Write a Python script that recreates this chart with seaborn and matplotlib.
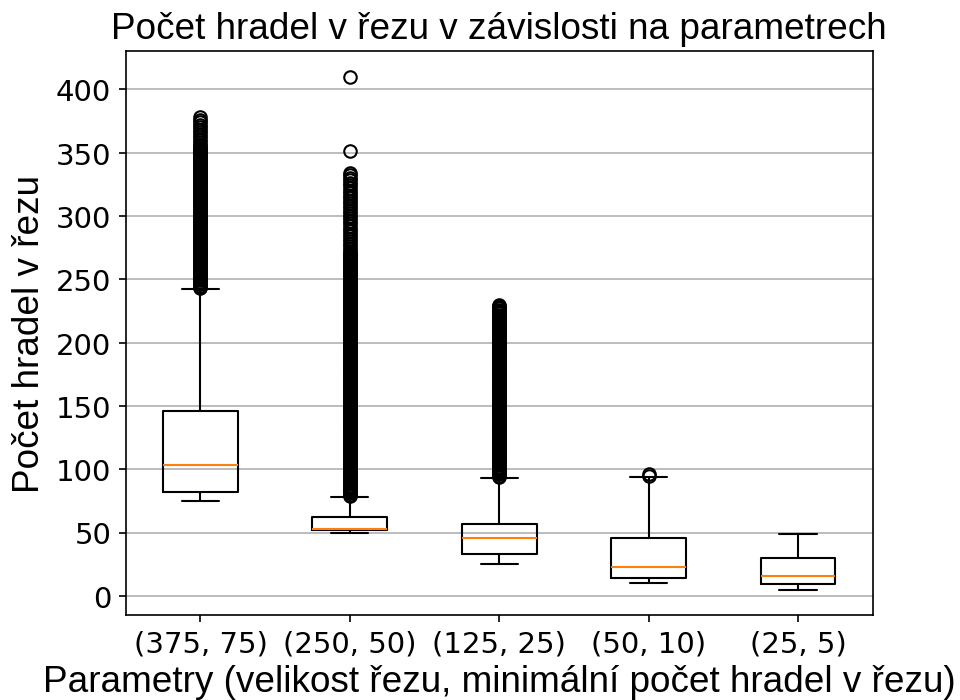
import matplotlib
matplotlib.use("Agg")
import matplotlib.pyplot as plt
import seaborn as sns

# Parametry a statistiky boxplotu
parametry = ["(375, 75)", "(250, 50)", "(125, 25)", "(50, 10)", "(25, 5)"]
whisker_lo = [75, 50, 25, 10, 5]
q1 = [82, 52, 33, 14, 9]
median = [103, 53, 46, 23, 16]
q3 = [146, 62, 57, 46, 30]
whisker_hi = [242, 78, 93, 94, 49]

fliers_375 = [243, 244, 245, 246, 247, 248, 249, 250, 251, 252, 253, 254, 255, 256,
              257, 258, 259, 260, 261, 262, 263, 264, 265, 266, 267, 268, 269, 270,
              271, 272, 273, 274, 275, 276, 277, 278, 279, 280, 281, 282, 283, 284,
              285, 286, 287, 288, 289, 290, 291, 292, 293, 294, 295, 296, 297, 298,
              299, 300, 301, 302, 303, 304, 305, 306, 307, 308, 309, 310, 311, 312,
              313, 314, 315, 316, 317, 318, 319, 320, 321, 322, 323, 324, 325, 326,
              327, 328, 329, 330, 331, 332, 333, 334, 335, 336, 337, 338, 339, 340,
              341, 342, 343, 344, 345, 346, 347, 348, 349, 350, 351, 352, 353, 354,
              355, 356, 358, 360, 362, 364, 366, 368, 370, 372, 374, 376, 378]
fliers_250 = [79, 80, 81, 82, 83, 84, 85, 86, 87, 88, 89, 90, 91, 92, 93, 94, 95,
              96, 97, 98, 99, 100, 101, 102, 103, 104, 105, 106, 107, 108, 109, 110,
              111, 112, 113, 114, 115, 116, 117, 118, 119, 120, 121, 122, 123, 124,
              125, 126, 127, 128, 129, 130, 131, 132, 133, 134, 135, 136, 137, 138,
              139, 140, 141, 142, 143, 144, 145, 146, 147, 148, 149, 150, 151, 152,
              153, 154, 155, 156, 157, 158, 159, 160, 161, 162, 163, 164, 165, 166,
              167, 168, 169, 170, 171, 172, 173, 174, 175, 176, 177, 178, 179, 180,
              181, 182, 183, 184, 185, 186, 187, 188, 189, 190, 191, 192, 193, 194,
              195, 196, 197, 198, 199, 200, 201, 202, 203, 204, 205, 206, 207, 208,
              209, 210, 211, 212, 213, 214, 215, 216, 217, 218, 219, 220, 221, 222,
              223, 224, 225, 226, 227, 228, 229, 230, 231, 232, 233, 234, 235, 236,
              237, 238, 239, 240, 241, 242, 243, 244, 245, 246, 247, 248, 249, 250,
              251, 252, 253, 254, 255, 256, 257, 258, 259, 260, 261, 262, 263, 264,
              265, 266, 267, 268, 269, 270, 271, 272, 274, 276, 278, 280, 282, 284,
              286, 288, 290, 292, 294, 296, 298, 300, 302, 304, 306, 308, 310, 312,
              314, 316, 318, 320, 322, 324, 326, 328, 330, 332, 334, 351, 410]
fliers_125 = [94, 95, 96, 97, 98, 99, 100, 101, 102, 103, 104, 105, 106, 107, 108,
              109, 110, 111, 112, 113, 114, 115, 116, 117, 118, 119, 120, 121, 122,
              123, 124, 125, 126, 127, 128, 129, 130, 131, 132, 133, 134, 135, 136,
              137, 138, 139, 140, 141, 142, 143, 144, 145, 146, 147, 148, 149, 150,
              151, 152, 153, 154, 155, 156, 157, 158, 159, 160, 161, 162, 163, 164,
              165, 166, 167, 168, 169, 170, 171, 172, 173, 174, 175, 176, 177, 178,
              179, 180, 181, 182, 183, 184, 185, 186, 187, 188, 189, 190, 191, 192,
              193, 194, 195, 196, 197, 198, 199, 200, 201, 202, 203, 204, 205, 206,
              207, 208, 209, 210, 211, 212, 213, 214, 215, 216, 217, 218, 219, 220,
              221, 222, 223, 224, 225, 226, 227, 228, 229, 230]
fliers_50 = [95, 96]
fliers_25 = []
fliers = [fliers_375, fliers_250, fliers_125, fliers_50, fliers_25]

sns.set_style("ticks", {"axes.grid": True, "axes.edgecolor": "black",
                        "grid.color": "#b0b0b0", "xtick.color": "black",
                        "ytick.color": "black", "axes.labelcolor": "black",
                        "text.color": "black"})
plt.rcParams["font.family"] = ["DejaVu Sans"]

stats = []
for i, lab in enumerate(parametry):
    stats.append({"label": lab, "whislo": whisker_lo[i], "q1": q1[i], "med": median[i],
                  "q3": q3[i], "whishi": whisker_hi[i], "fliers": fliers[i]})

fig = plt.figure(figsize=(6.4, 4.673), dpi=150)
ax = fig.add_axes([0.131, 0.121, 0.778, 0.805])
ax.bxp(stats, showfliers=True,
       boxprops=dict(color="black", linewidth=1),
       whiskerprops=dict(color="black", linewidth=1),
       capprops=dict(color="black", linewidth=1),
       medianprops=dict(color="#ff7f0e", linewidth=1),
       flierprops=dict(marker="o", markerfacecolor="none", markeredgecolor="black",
                       markersize=6, linestyle="none"))
ax.grid(axis="y", color="#b0b0b0", linewidth=0.8)
ax.grid(axis="x", visible=False)
ax.set_axisbelow(True)
for s in ax.spines.values():
    s.set_color("black")
    s.set_linewidth(0.8)
ax.tick_params(labelsize=14, length=3.5, width=0.8, direction="out")
for lbl in ax.get_xticklabels() + ax.get_yticklabels():
    lbl.set_family("DejaVu Sans")
ax.set_ylim(-15.25, 430.25)

fnt = ["Liberation Sans", "DejaVu Sans"]
ax.set_title("Počet hradel v řezu v závislosti na parametrech", fontsize=17.7, family=fnt)
ax.set_xlabel("Parametry (velikost řezu, minimální počet hradel v řezu)", fontsize=17.7,
              family=fnt, labelpad=3)
ax.set_ylabel("Počet hradel v řezu", fontsize=17.7, family=fnt, labelpad=4)

fig.savefig("out.png", dpi=150)
